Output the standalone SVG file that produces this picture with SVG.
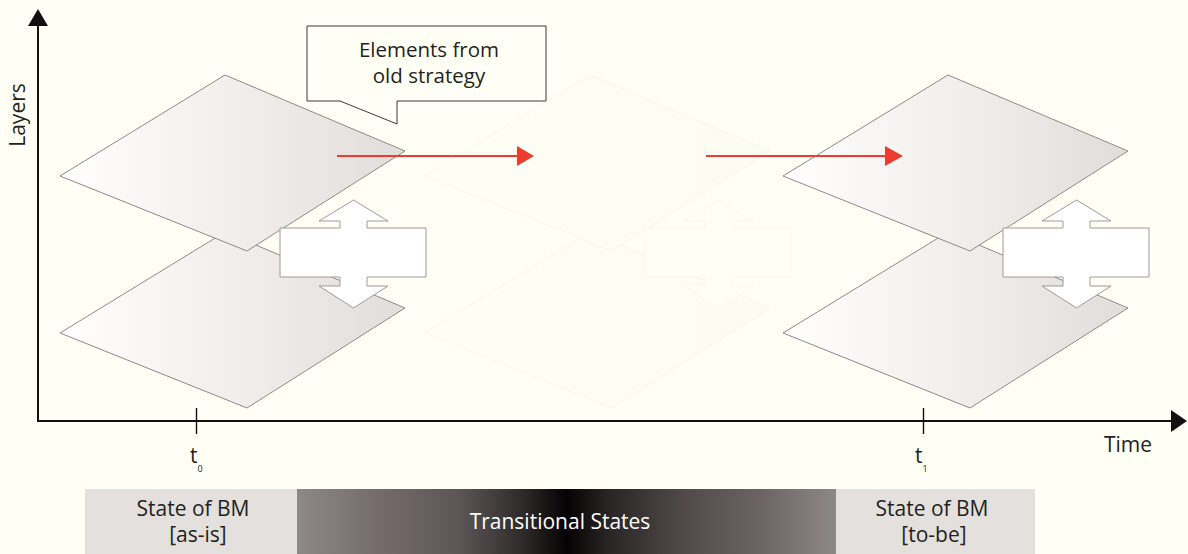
<svg xmlns="http://www.w3.org/2000/svg" xmlns:xlink="http://www.w3.org/1999/xlink" width="1188" height="554" viewBox="0 0 1188 554">
  <style>
    .txt { font-family: "Open Sans", "Liberation Sans", sans-serif; font-size: 20px; fill: #231f20; }
    .plane { fill: url(#planeGrad); stroke: #8c8a88; stroke-width: 1; }
    .dbl { fill: #ffffff; stroke: #9c9a98; stroke-width: 1; }
    .axis { stroke: #111111; stroke-width: 2; fill: none; }
    .tick { stroke: #111111; stroke-width: 1.4; }
    .red { stroke: #ef3a2e; stroke-width: 2; fill: none; }
    .redhead { fill: #ef3a2e; }
  </style>
  <defs>
    <linearGradient id="planeGrad" x1="0" y1="0" x2="1" y2="0">
      <stop offset="0" stop-color="#ffffff"/>
      <stop offset="0.2" stop-color="#faf8f6"/>
      <stop offset="0.6" stop-color="#eeebe9"/>
      <stop offset="1" stop-color="#e0dddb"/>
    </linearGradient>
    <linearGradient id="transGrad" gradientUnits="userSpaceOnUse" x1="297" y1="0" x2="836" y2="0">
      <stop offset="0" stop-color="#8d8986"/>
      <stop offset="0.15" stop-color="#756c6b"/>
      <stop offset="0.3" stop-color="#5e5656"/>
      <stop offset="0.42" stop-color="#2e2a2a"/>
      <stop offset="0.5" stop-color="#040202"/>
      <stop offset="0.58" stop-color="#2a2626"/>
      <stop offset="0.72" stop-color="#524a4a"/>
      <stop offset="0.86" stop-color="#6c6464"/>
      <stop offset="1" stop-color="#8d8986"/>
    </linearGradient>
    <path id="planeShape" d="M60,176 L225,75 L405,151 L247,251 Z"/>
    <polygon id="dblArrow" points="353.5,200 388,221 367,221 367,228 426,228 426,277 367,277 367,286 388,286 353.5,308 319,286 340,286 340,277 280,277 280,228 340,228 340,221 319,221"/>
  </defs>

  <rect x="0" y="0" width="1188" height="554" fill="#fffff5"/>

  <g id="state-asis">
    <use xlink:href="#planeShape" class="plane" transform="translate(0,157)"/>
    <use xlink:href="#planeShape" class="plane"/>
    <use xlink:href="#dblArrow" class="dbl"/>
  </g>

  <g id="state-transitional" transform="translate(365,0)" opacity="0.07">
    <use xlink:href="#planeShape" class="plane" transform="translate(0,157)"/>
    <use xlink:href="#planeShape" class="plane"/>
    <use xlink:href="#dblArrow" class="dbl"/>
  </g>

  <g id="state-tobe" transform="translate(723,0)">
    <use xlink:href="#planeShape" class="plane" transform="translate(0,157)"/>
    <use xlink:href="#planeShape" class="plane"/>
    <use xlink:href="#dblArrow" class="dbl"/>
  </g>

  <g id="callout">
    <path d="M307,26 L546,26 L546,101 L397,101 L397,124 L340,101 L307,101 Z" fill="#fffff5" stroke="#3a3836" stroke-width="1"/>
    <text class="txt" x="429" y="57" text-anchor="middle" style="font-size:20.5px">Elements from</text>
    <text class="txt" x="429" y="83" text-anchor="middle" style="font-size:20.5px">old strategy</text>
  </g>

  <g id="connectors">
    <line class="red" x1="337" y1="156" x2="518" y2="156"/>
    <polygon class="redhead" points="517,146 534,156 517,166"/>
    <line class="red" x1="706" y1="156" x2="886" y2="156"/>
    <polygon class="redhead" points="885,146 903,156 885,166"/>
  </g>

  <g id="axes">
    <line class="axis" x1="38" y1="421" x2="38" y2="22"/>
    <polygon points="28,26 38,9 48,26" fill="#111111"/>
    <line class="axis" x1="37" y1="421" x2="1174" y2="421"/>
    <polygon points="1171,410 1187,421 1171,432" fill="#111111"/>
    <line class="tick" x1="196.5" y1="408" x2="196.5" y2="434"/>
    <line class="tick" x1="923.5" y1="408" x2="923.5" y2="434"/>
    <text class="txt" transform="translate(25,115) rotate(-90)" text-anchor="middle" style="font-size:21px">Layers</text>
    <text class="txt" x="1128" y="452" text-anchor="middle" style="font-size:21px">Time</text>
    <text class="txt" x="190" y="463" style="font-size:21px">t<tspan font-size="9" dy="9">0</tspan></text>
    <text class="txt" x="915" y="463" style="font-size:21px">t<tspan font-size="9" dy="9">1</tspan></text>
  </g>

  <g id="timeline-bar">
    <rect id="asis" x="85" y="489" width="212" height="65" fill="#e3e0dd"/>
    <rect id="transitional" x="297" y="489" width="539" height="65" fill="url(#transGrad)"/>
    <rect id="tobe" x="836" y="489" width="199" height="65" fill="#e3e0dd"/>
    <text class="txt" x="193" y="515.5" text-anchor="middle" style="font-size:21px">State of BM</text>
    <text class="txt" x="198" y="541.5" text-anchor="middle" style="font-size:21px">[as-is]</text>
    <text class="txt" x="560" y="529" text-anchor="middle" style="fill:#ffffff;font-size:21px">Transitional States</text>
    <text class="txt" x="932" y="515.5" text-anchor="middle" style="font-size:21px">State of BM</text>
    <text class="txt" x="934" y="541.5" text-anchor="middle" style="font-size:21px">[to-be]</text>
  </g>
</svg>
